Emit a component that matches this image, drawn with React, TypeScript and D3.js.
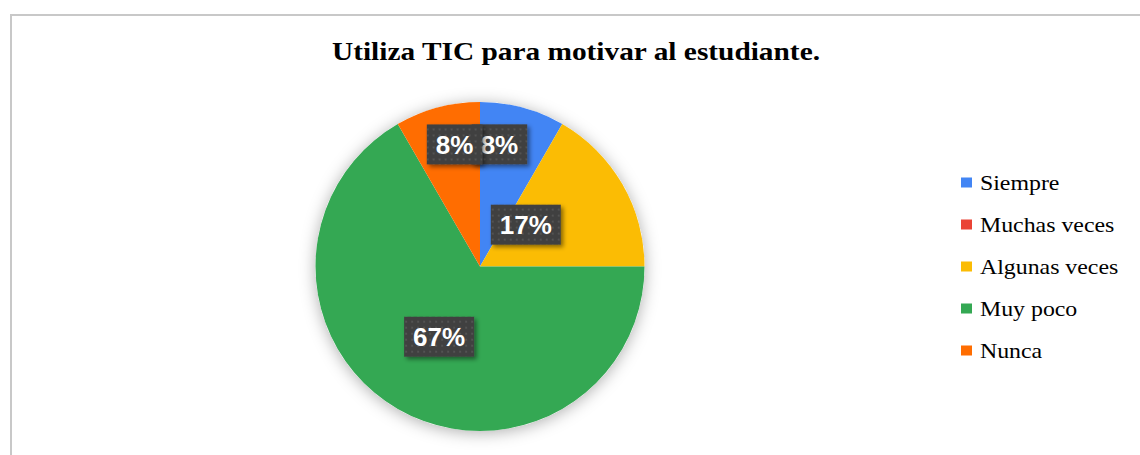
import React from "react";
import * as d3 from "d3";

const title = "Utiliza TIC para motivar al estudiante.";
const categories = ["Siempre", "Muchas veces", "Algunas veces", "Muy poco", "Nunca"];
const counts = [1, 0, 2, 8, 1];
const colors = ["#4285F4", "#EA4335", "#FBBC04", "#34A853", "#FF6D01"];

// label layout (radius as fraction of pie radius, angle nudge in degrees)
const labelRadiusFrac = [0.752, 0.5, 0.377, 0.494, 0.758];
const labelAngleNudge = [-5.96, 0, -12.4, 0.2, 3.24];

const W = 1140;
const H = 455;
const CX = 480;
const CY = 266.5;
const R = 164.5;

export default function App() {
  const total = d3.sum(counts);
  const pie = d3.pie<number>().sort(null).value((d) => d);
  const arcs = pie(counts);
  const arcGen = d3.arc<d3.PieArcDatum<number>>().innerRadius(0).outerRadius(R);
  const fmt = d3.format(".0%");

  const labels = arcs
    .map((a, i) => {
      if (a.data === 0) return null;
      const mid = (a.startAngle + a.endAngle) / 2 + (labelAngleNudge[i] * Math.PI) / 180;
      const r = labelRadiusFrac[i] * R;
      const la = d3.arc().innerRadius(r).outerRadius(r).startAngle(mid).endAngle(mid);
      const [x, y] = (la as any).centroid();
      const text = fmt(a.data / total);
      return { i, x, y, text };
    })
    .filter(Boolean) as { i: number; x: number; y: number; text: string }[];

  const charW = (t: string) =>
    t.split("").reduce((s, c) => s + (c === "%" ? 0.889 : 0.556), 0) * 26;

  const legendY = d3.scalePoint<string>().domain(categories).range([183, 351]);

  return (
    <svg
      width={W}
      height={H}
      style={{ position: "absolute", left: 0, top: 0, background: "#fff" }}
    >
      <defs>
        <filter id="pieShadow" x="-20%" y="-20%" width="140%" height="140%">
          <feDropShadow dx="0" dy="2" stdDeviation="8" floodColor="#000" floodOpacity="0.32" />
        </filter>
        <filter id="boxShadow" x="-30%" y="-30%" width="160%" height="160%">
          <feDropShadow dx="2.5" dy="2.5" stdDeviation="2" floodColor="#000" floodOpacity="0.45" />
        </filter>
        <pattern id="dots" width="6" height="6" patternUnits="userSpaceOnUse">
          <rect width="6" height="6" fill="#404040" />
          <rect x="2" y="2" width="2" height="2" fill="#525252" />
        </pattern>
      </defs>

      <rect x={0} y={0} width={W} height={H} fill="#fff" />
      <line x1={10} y1={15} x2={W} y2={15} stroke="#c8c8c8" strokeWidth={2} />
      <line x1={11} y1={14} x2={11} y2={H} stroke="#c8c8c8" strokeWidth={2} />

      <text
        x={576}
        y={60}
        textAnchor="middle"
        fontFamily="'Liberation Serif', 'Times New Roman', serif"
        fontWeight="bold"
        fontSize={26}
        textLength={488}
        lengthAdjust="spacingAndGlyphs"
        fill="#000"
      >
        {title}
      </text>

      <g transform={`translate(${CX},${CY})`}>
        <circle r={R} fill="#fff" filter="url(#pieShadow)" />
        {arcs.map((a, i) => (
          <path key={i} d={arcGen(a) || ""} fill={colors[i]} />
        ))}
        {labels.map((l) => {
          const tw = charW(l.text);
          const bw = tw + 18;
          const bh = 40;
          return (
            <g key={l.i} transform={`translate(${l.x},${l.y})`}>
              <rect
                x={-bw / 2}
                y={-bh / 2}
                width={bw}
                height={bh}
                fill="url(#dots)"
                filter="url(#boxShadow)"
              />
              <text
                x={0}
                y={9.5}
                textAnchor="middle"
                fontFamily="'Liberation Sans', Arial, sans-serif"
                fontWeight="bold"
                fontSize={26}
                fill="#fff"
              >
                {l.text}
              </text>
            </g>
          );
        })}
      </g>

      <g>
        {categories.map((c, i) => {
          const y = legendY(c) as number;
          return (
            <g key={c}>
              <rect x={961} y={y - 5.5} width={11} height={10} fill={colors[i]} />
              <text
                transform={`translate(980,${y + 7}) scale(1.135,1)`}
                fontFamily="'Liberation Serif', 'Times New Roman', serif"
                fontSize={21}
                fill="#000"
              >
                {c}
              </text>
            </g>
          );
        })}
      </g>
    </svg>
  );
}
